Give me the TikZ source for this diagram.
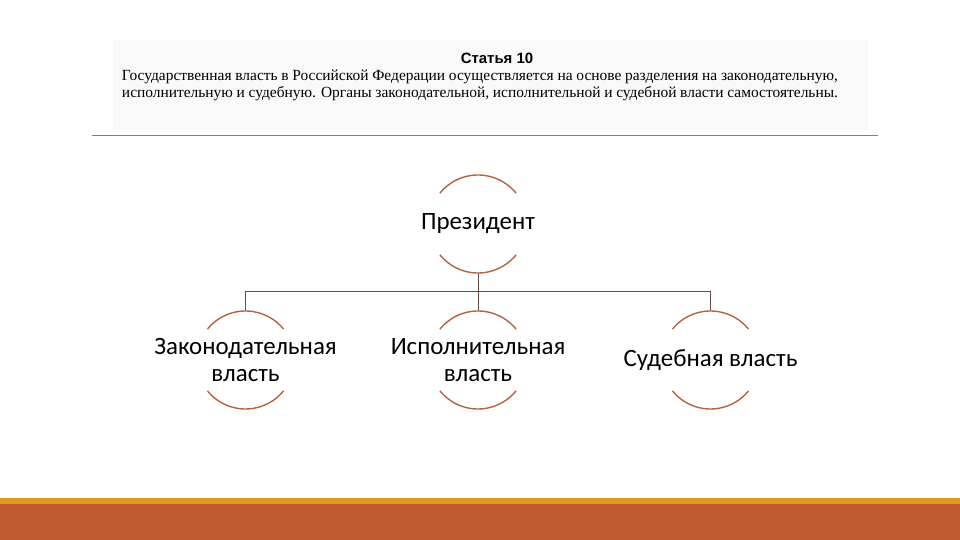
\documentclass[tikz,border=0pt]{standalone}
\usepackage{fontspec}
\setmainfont{Carlito}
\newfontfamily\serifru{Liberation Serif}
\newfontfamily\headru{Liberation Sans}
\usepackage{tikz}
\usetikzlibrary{calc,positioning}

\definecolor{arccol}{HTML}{B4643C}
\definecolor{linkcol}{HTML}{6A4A44}
\definecolor{bandcol}{HTML}{BE5A2E}
\definecolor{stripcol}{HTML}{DC9A1E}

\begin{document}
\begin{tikzpicture}[x=1bp,y=1bp,
	level distance=136bp, sibling distance=232.5bp,
	every node/.style={font=\fontsize{25}{27.5}\selectfont,align=center,inner sep=0},
	edge from parent/.style={draw,linkcol,line width=0.8bp},
	edge from parent path={(\tikzparentnode.center) ++(0,-49bp) -- ++(0,-18bp)
		-| ($(\tikzchildnode.center)+(0,49bp)$)},
	halfarc/.style={arccol,line width=1.4bp}]
		\useasboundingbox (0,0) rectangle (960,540);
		% header
		\fill[black!2.5] (113,410) rectangle (868,500);
		\node (title) at (497,482) {\headru\bfseries\fontsize{15}{17}\selectfont Статья 10};
		\node (line1) at (480,463) {\serifru\fontsize{15.5}{17}\selectfont\makebox[716bp][s]{Государственная власть в Российской Федерации осуществляется на основе разделения на законодательную,}};
		\node (line2) at (480,446) {\serifru\fontsize{15.5}{17}\selectfont\makebox[716bp][s]{исполнительную и судебную. Органы законодательной, исполнительной и судебной власти самостоятельны.}};
		\draw[gray,line width=1bp] (92,404) -- (878,404);
		% tree
		\node (pres) at (478,316) {Президент}
		child{node (zak) {Законодательная\\власть}}
		child{node (isp) {Исполнительная\\власть}}
		child{node (sud) {Судебная власть}};
		\foreach \n in {pres,zak,isp,sud}{
			\draw[halfarc] (\n.center) ++(141:49bp) arc[start angle=141,end angle=39,radius=49bp];
			\draw[halfarc] (\n.center) ++(-141:49bp) arc[start angle=-141,end angle=-39,radius=49bp];
		}
		% band
		\fill[stripcol] (0,36) rectangle (960,42);
		\fill[bandcol] (0,0) rectangle (960,36);
\end{tikzpicture}
\end{document}
